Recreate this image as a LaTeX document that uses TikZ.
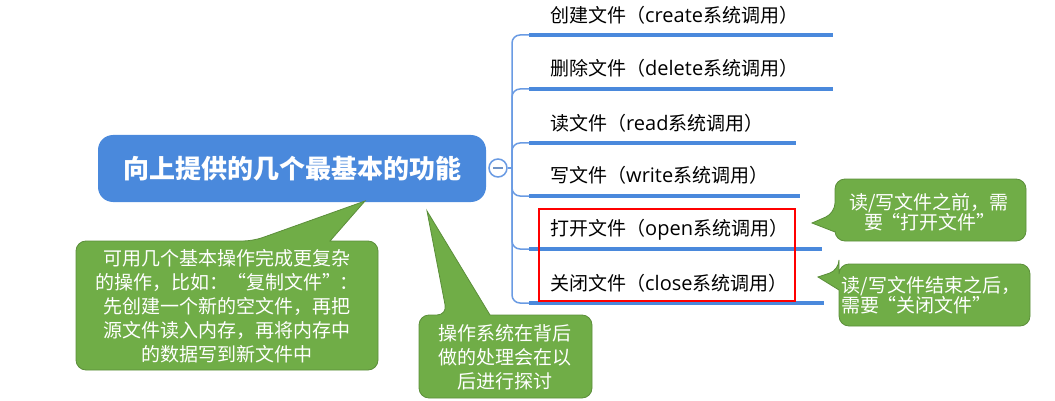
\documentclass[tikz,border=0pt]{standalone}
\usepackage{fontspec}
\newfontfamily\cjk{Noto Sans CJK SC}
\newfontfamily\lat{Open Sans}
\newcommand{\lt}[1]{{\lat\fontsize{20}{22}\selectfont #1}}
\newcommand{\ql}{\makebox[0.9em][r]{“}}
\newcommand{\qr}{\makebox[0.9em][l]{”}}
\definecolor{rootblue}{HTML}{4A89DC}
\definecolor{thinblue}{HTML}{6A9BE3}
\definecolor{cgreen}{HTML}{70AD47}
\definecolor{cgreenedge}{HTML}{5B8E3A}
\begin{document}
\begin{tikzpicture}[x=1pt,y=-1pt,
  rootbox/.style={fill=rootblue, rounded corners=15pt, minimum width=388pt, minimum height=67pt,
    text=white, font={\cjk\bfseries\fontsize{26}{30}\selectfont}, inner sep=0pt},
  leaf/.style={anchor=west, text=black, font={\cjk\fontsize{19}{22}\selectfont}, inner sep=0pt},
  bar/.style={rootblue, line width=4.5pt},
  twig/.style={thinblue, line width=1.5pt, rounded corners=8pt},
  callout/.style={fill=cgreen, draw=cgreenedge, line width=0.8pt, rounded corners=10pt},
  ctext/.style={text=white, font={\cjk\fontsize{19}{24}\selectfont}, inner sep=0pt, align=center},
  hlbox/.style={draw=red, line width=2pt, minimum width=256pt, minimum height=92pt, inner sep=0pt}
]
\useasboundingbox (0,0) rectangle (1055,401);

% root
\node[rootbox] (root) at (292,168.5) {向上提供的几个最基本的功能};
\node[circle, draw=thinblue, fill=white, line width=1.5pt, minimum size=18pt, inner sep=0pt] (fold) at (498,168) {};
\draw[thinblue!70!gray, line width=1.5pt] ([xshift=-5pt]fold.center) -- ([xshift=5pt]fold.center);
\coordinate (trunk) at (512,168);
\draw[thinblue, line width=1.5pt] (fold.east) -- (trunk);

% branches
\foreach \n/\y/\xe in {1/35/833, 2/89/833, 3/143/796, 4/196/800, 5/249/822, 6/303/824}{
  \coordinate (s\n) at (529,\y);
  \coordinate (e\n) at (\xe,\y);
  \draw[twig] (trunk) |- (s\n);
  \draw[bar] (s\n) -- (e\n);
}
\node[leaf] (b1) at (550,15) {创建文件（\lt{create}系统调用）};
\node[leaf] (b2) at (550,68) {删除文件（\lt{delete}系统调用）};
\node[leaf] (b3) at (550,123) {读文件（\lt{read}系统调用）};
\node[leaf] (b4) at (550,175) {写文件（\lt{write}系统调用）};
\node[leaf] (b5) at (550,230) {打开文件（\lt{open}系统调用）};
\node[leaf] (b6) at (550,283) {关闭文件（\lt{close}系统调用）};

% highlight
\node[hlbox] (hl) at (667,255) {};

% callout 1 (right, open)
\draw[callout] (835,232) -- (835,241) -- (1026,241) -- (1026,179) -- (835,179) -- (835,213) [sharp corners] -- (812,223) -- cycle;
\node[ctext] (c1) at (929,212) {读/写文件之前，需\\[-4pt]要\ql 打开文件\qr};

% callout 2 (right, close)
\draw[callout] (839,290) -- (839,326) -- (1030,326) -- (1030,264) -- (839,264) -- (839,270) [sharp corners] -- (818,277) -- cycle;
\node[ctext, align=left] (c2) at (931,295) {读/写文件结束之后，\\[-4pt]需要\ql 关闭文件\qr};

% callout 3 (left bottom)
\draw[callout] (330,241) -- (378,241) -- (378,370) -- (76,370) -- (76,241) -- (253,241) [sharp corners] -- (365,201) -- cycle;
\node[ctext] (c3) at (227,306) {可用几个基本操作完成更复杂\\的操作，比如：\ql 复制文件\qr ：\\先创建一个新的空文件，再把\\源文件读入内存，再将内存中\\的数据写到新文件中};

% callout 4 (middle bottom)
\draw[callout] (490,315) -- (592,315) -- (592,398) -- (419,398) -- (419,315) -- (447,315) [sharp corners] -- (427,211) -- cycle;
\node[ctext] (c4) at (505,357) {操作系统在背后\\做的处理会在以\\后进行探讨};
\end{tikzpicture}
\end{document}
